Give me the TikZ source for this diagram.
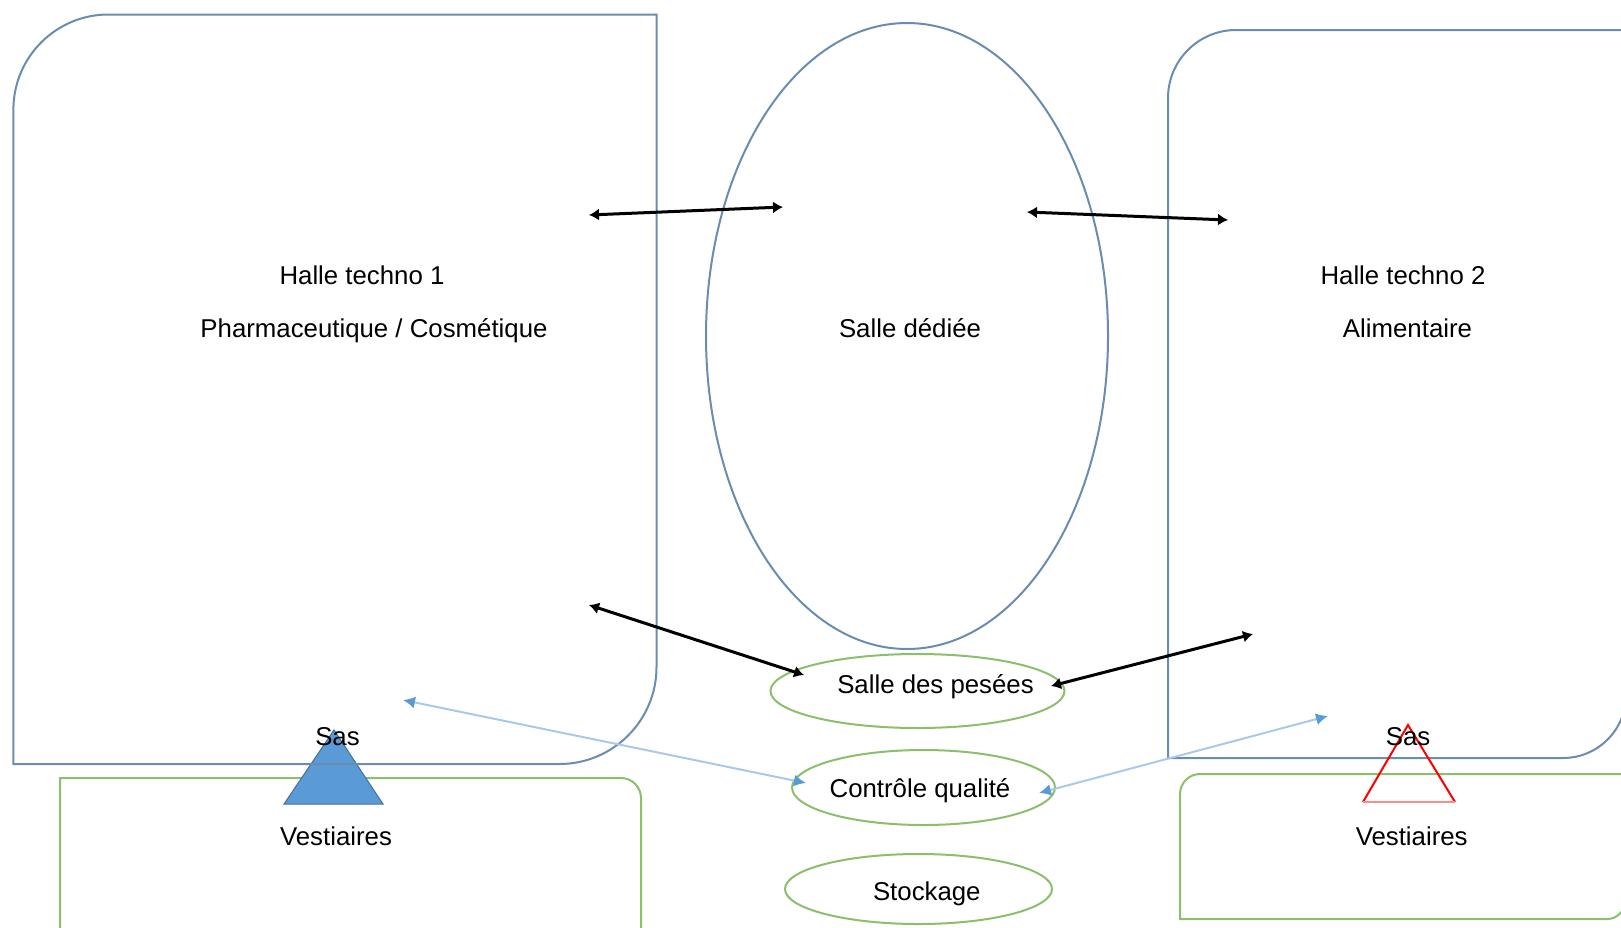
\documentclass[tikz,border=0pt]{standalone}
\usepackage{fontspec}
\setmainfont{Liberation Sans}
\usetikzlibrary{arrows.meta,shapes.geometric}
\definecolor{hallblue}{HTML}{6A8CB0}
\definecolor{vgreen}{HTML}{8CBF6C}
\definecolor{lblue}{HTML}{A9C9EA}
\definecolor{mblue}{HTML}{5B9BD5}
\definecolor{dblue}{HTML}{41719C}
\definecolor{pinkred}{HTML}{FF8A8A}
\begin{document}
\begin{tikzpicture}[x=0.5pt,y=-0.5pt,
  hall/.style={draw=hallblue,line width=1pt},
  vest/.style={draw=vgreen,line width=1pt},
  room/.style={ellipse,draw=vgreen,line width=1pt,inner sep=0pt},
  lbl/.style={font=\fontsize{12.9pt}{15pt}\selectfont,inner sep=0pt,anchor=base},
  blk/.style={line width=1.5pt,{Latex[length=5pt,width=6pt]}-{Latex[length=5pt,width=6pt]}},
  lb/.style={draw=lblue,line width=1pt,{Latex[length=6pt,width=6pt,color=mblue]}-{Latex[length=6pt,width=6pt,color=mblue]}}]
\useasboundingbox (0,0) rectangle (1621,927);
\clip (0,0) rectangle (1621,927);
% vestiaires boxes
\draw[vest] (60,950) -- (60,778) -- (621,778) .. controls (632,778) and (641,787) .. (641,798) -- (641,950);
\draw[vest] (1180,919) -- (1180,794) .. controls (1180,783) and (1189,774) .. (1200,774) -- (1625,774) -- (1625,901) .. controls (1625,911) and (1617,919) .. (1607,919) -- cycle;
% sas triangles
\fill[mblue] (334,730) -- (383,804) -- (284,804) -- cycle;
\draw[dblue,line width=0.5pt] (334,730) -- (383,804) -- (284,804) -- cycle;
% halls
\draw[hall] (13.4,764) -- (13.4,109.5) .. controls (13.4,57.1) and (56,14.5) .. (108.4,14.5) -- (656.5,14.5) -- (656.5,667) .. controls (656.5,720.5) and (613,764) .. (559.5,764) -- cycle;
\draw[hall] (1168,758) -- (1168,98) .. controls (1168,60.5) and (1198.5,30) .. (1236,30) -- (1626,30) -- (1626,695) .. controls (1626,729.8) and (1597.8,758) .. (1563,758) -- cycle;
\draw[red,line width=1pt] (1363,802) -- (1408,725) -- (1455,802);
\draw[pinkred,line width=1pt] (1363,802) -- (1455,802);
% rooms
\node[ellipse,draw=hallblue,line width=1pt,inner sep=0pt,minimum width=201pt,minimum height=313pt] (dediee) at (907,336) {};
\node[room,minimum width=147pt,minimum height=37pt] (pesees) at (917.5,691) {};
\node[room,minimum width=131.5pt,minimum height=37.5pt] (cq) at (923.5,787.5) {};
\node[room,minimum width=133.5pt,minimum height=35pt] (stock) at (918.5,889) {};
% arrow ends
\coordinate (h1a) at (589,215); \coordinate (sda) at (783,207);
\coordinate (sdb) at (1027,212); \coordinate (h2a) at (1228,220);
\coordinate (h1b) at (589,605); \coordinate (spa) at (804,675);
\coordinate (spb) at (1051,686); \coordinate (h2b) at (1253,634);
\coordinate (h1c) at (403,700); \coordinate (cqa) at (806,783);
\coordinate (cqb) at (1039,793); \coordinate (h2c) at (1328,716);
\draw[blk] (h1a) -- (sda);
\draw[blk] (sdb) -- (h2a);
\draw[blk] (h1b) -- (spa);
\draw[blk] (spb) -- (h2b);
\draw[lb] (h1c) -- (cqa);
\draw[lb] (cqb) -- (h2c);
% labels
\node[lbl] (t1) at (362,284) {Halle techno 1};
\node[lbl] (t1b) at (374,337) {Pharmaceutique / Cosmétique};
\node[lbl] (t2) at (1403,284) {Halle techno 2};
\node[lbl] (t2b) at (1407.5,337) {Alimentaire};
\node[lbl] (td) at (910,337) {Salle dédiée};
\node[lbl] (tp) at (935.5,693) {Salle des pesées};
\node[lbl] (tc) at (920,797) {Contrôle qualité};
\node[lbl] (ts) at (926.8,900) {Stockage};
\node[lbl] (v1) at (336,845) {Vestiaires};
\node[lbl] (v2) at (1411.7,845) {Vestiaires};
\node[lbl] (s1) at (337.5,745) {Sas};
\node[lbl] (s2) at (1408,745) {Sas};
\end{tikzpicture}
\end{document}
